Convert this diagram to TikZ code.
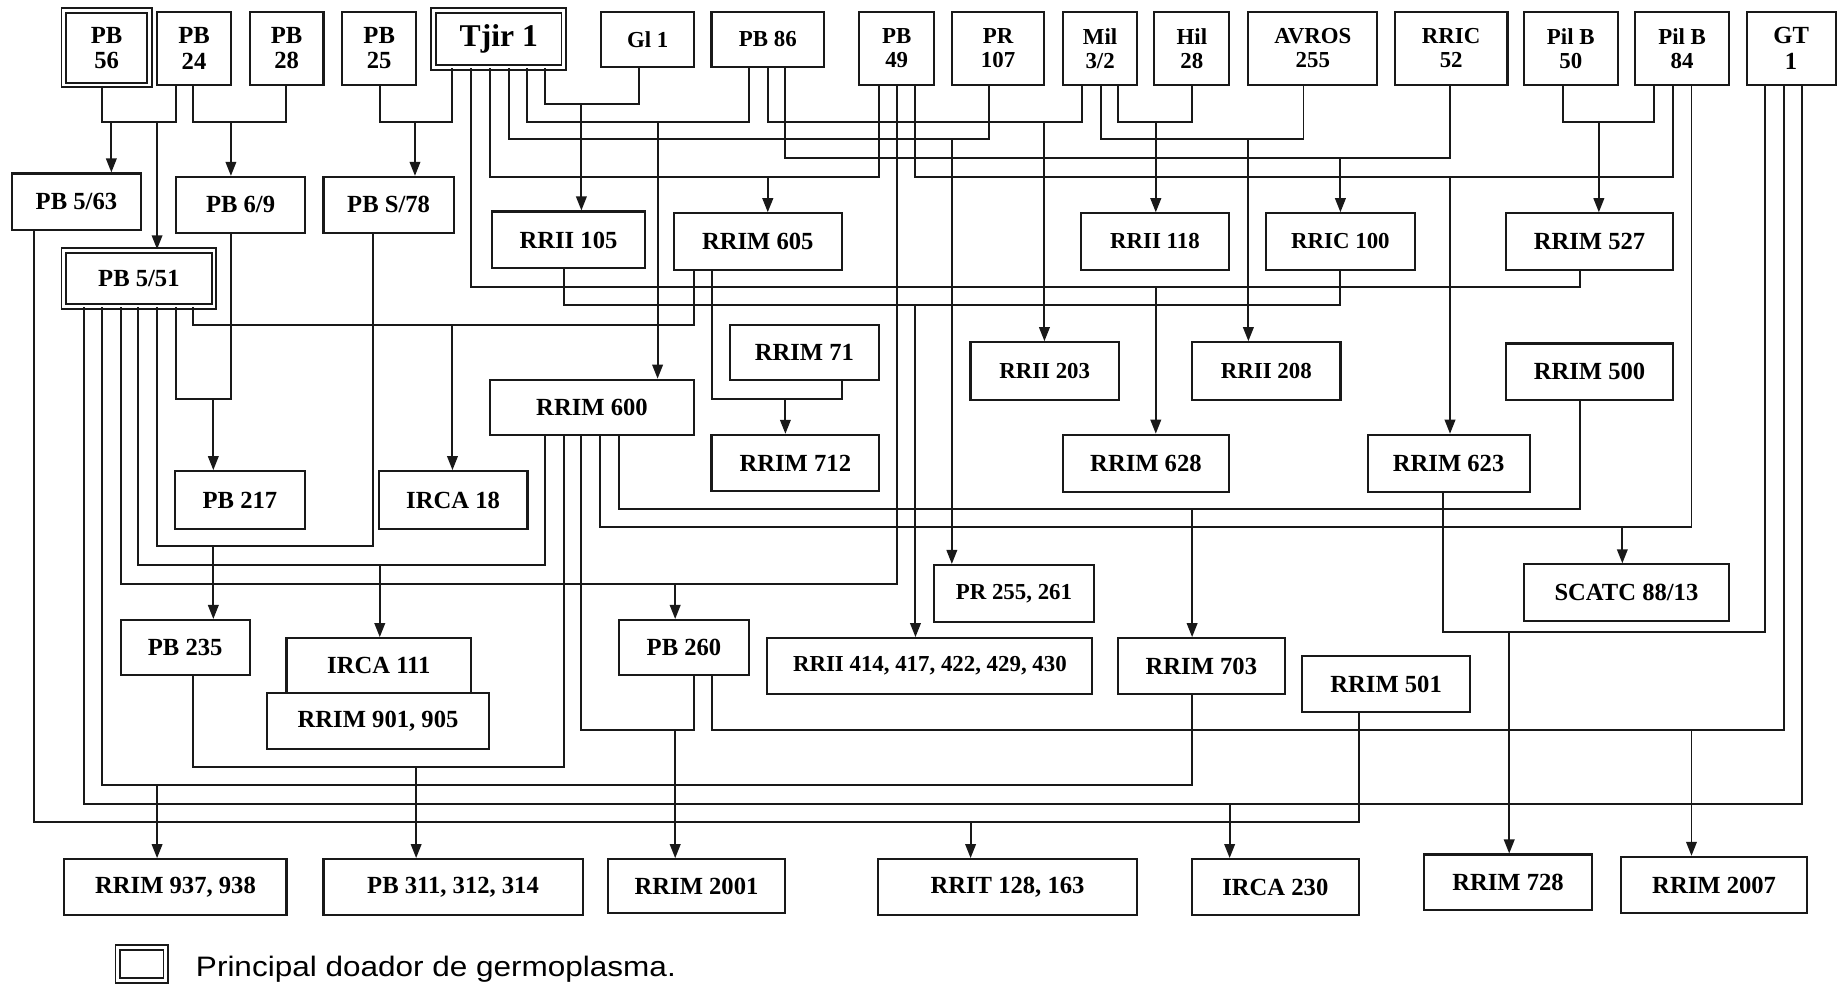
\documentclass[tikz,border=0pt]{standalone}
\usepackage{fontspec}
\setmainfont{Liberation Serif}
\newfontfamily\legendfont{Liberation Sans}[FakeStretch=1.12]
\usepackage{xcolor}
\usepackage{tikz}
\usetikzlibrary{arrows.meta}
\definecolor{CloneInk}{RGB}{25, 25, 25}

\tikzset{
  box/.style={draw=CloneInk, line width=1.8pt, inner sep=0pt, align=center,
    font=\fontsize{21}{21.5}\selectfont\bfseries},
  small/.style={font=\fontsize{19.5}{20.5}\selectfont\bfseries},
  donor/.style={box, double, double distance=2.4pt, line width=1.6pt},
  link/.style={draw=CloneInk, line width=1.7pt},
  feed/.style={link, -{Triangle[length=12pt,width=9pt]}},
}

\begin{document}
\begin{tikzpicture}[x=1pt, y=-1pt]
  \useasboundingbox (0,0) rectangle (1568,840);

  % parent clones, top row
  \node[donor, minimum width=73pt, minimum height=63.5pt] (pb56) at (91,40.75) {PB\\56};
  \node[box, minimum width=63pt, minimum height=62.5pt] (pb24) at (165.5,41.25) {PB\\24};
  \node[box, minimum width=63pt, minimum height=62.5pt] (pb28) at (244.5,41.25) {PB\\28};
  \node[box, minimum width=63pt, minimum height=62.5pt] (pb25) at (323.5,41.25) {PB\\25};
  \node[donor, minimum width=111pt, minimum height=48.5pt,
    font=\fontsize{27}{27}\selectfont\bfseries] (tjir) at (425.5,33.25) {Tjir 1};
  \node[box, small, minimum width=79pt, minimum height=47pt] (gl1) at (552.5,33.5) {Gl 1};
  \node[box, small, minimum width=96pt, minimum height=47pt] (pb86) at (655,33.5) {PB 86};
  \node[box, small, minimum width=64pt, minimum height=62.5pt] (pb49) at (765,41.25) {PB\\49};
  \node[box, small, minimum width=79pt, minimum height=62.5pt] (pr107) at (851.5,41.25) {PR\\107};
  \node[box, small, minimum width=63pt, minimum height=62.5pt] (mil) at (938.5,41.25) {Mil\\3/2};
  \node[box, small, minimum width=64pt, minimum height=62.5pt] (hil) at (1016.8,41.25) {Hil\\28};
  \node[box, small, minimum width=110pt, minimum height=62.5pt] (avros) at (1120,41.25) {AVROS\\255};
  \node[box, small, minimum width=96pt, minimum height=62.5pt] (rric52) at (1238,41.25) {RRIC\\52};
  \node[box, small, minimum width=80pt, minimum height=62.5pt] (pilb50) at (1340,41.25) {Pil B\\50};
  \node[box, small, minimum width=80pt, minimum height=62.5pt] (pilb84) at (1435,41.25) {Pil B\\84};
  \node[box, minimum width=76pt, minimum height=62.5pt] (gt1) at (1528,41.25) {GT\\1};

  % second generation
  \node[box, minimum width=110.4pt, minimum height=48pt] (pb563) at (65.2,172) {PB 5/63};
  \node[box, minimum width=110.4pt, minimum height=47.5pt] (pb69) at (205.2,174.7) {PB 6/9};
  \node[box, minimum width=111pt, minimum height=47.5pt] (pbs78) at (331.5,174.7) {PB S/78};
  \node[donor, minimum width=128pt, minimum height=48pt] (pb551) at (118.5,237.5) {PB 5/51};
  \node[box, minimum width=130pt, minimum height=48.5pt] (rrii105) at (485,204.7) {RRII 105};
  \node[box, minimum width=143pt, minimum height=48pt] (rrim605) at (646.5,206) {RRIM 605};
  \node[box, small, minimum width=126.7pt, minimum height=48pt] (rrii118) at (985.3,206) {RRII 118};
  \node[box, small, minimum width=127pt, minimum height=48pt] (rric100) at (1143.5,206) {RRIC 100};
  \node[box, minimum width=142pt, minimum height=48pt] (rrim527) at (1356,206) {RRIM 527};

  % third generation
  \node[box, minimum width=127.2pt, minimum height=47pt] (rrim71) at (686.2,300.5) {RRIM 71};
  \node[box, small, minimum width=126.5pt, minimum height=49pt] (rrii203) at (891.2,316.5) {RRII 203};
  \node[box, small, minimum width=126.5pt, minimum height=49pt] (rrii208) at (1080.3,316.5) {RRII 208};
  \node[box, minimum width=142pt, minimum height=48pt] (rrim500) at (1356,317) {RRIM 500};
  \node[box, minimum width=174pt, minimum height=47.5pt] (rrim600) at (505,347.7) {RRIM 600};
  \node[box, minimum width=143pt, minimum height=48pt] (rrim712) at (678.5,395) {RRIM 712};
  \node[box, minimum width=142pt, minimum height=48.5pt] (rrim628) at (977.6,395.2) {RRIM 628};
  \node[box, minimum width=138.3pt, minimum height=48.5pt] (rrim623) at (1235.8,395.2) {RRIM 623};
  \node[box, minimum width=110.6pt, minimum height=49pt] (pb217) at (204.7,426.5) {PB 217};
  \node[box, minimum width=127pt, minimum height=49pt] (irca18) at (386.5,426.5) {IRCA 18};
  \node[box, small, minimum width=136pt, minimum height=49pt] (pr255) at (865,506.5) {PR 255, 261};
  \node[box, minimum width=175pt, minimum height=48pt] (scatc) at (1387.5,505.5) {SCATC 88/13};
  \node[box, minimum width=110pt, minimum height=47pt] (pb235) at (158,552.5) {PB 235};
  \node[box, minimum width=157.5pt, minimum height=46.5pt] (irca111) at (323.2,567.7) {IRCA 111};
  \node[box, minimum width=190pt, minimum height=48pt] (rrim901) at (322.5,615) {RRIM 901, 905};
  \node[box, minimum width=111pt, minimum height=47pt] (pb260) at (583.5,552.5) {PB 260};
  \node[box, small, minimum width=277.3pt, minimum height=47.5pt] (rrii414) at (793.3,568.2) {RRII 414, 417, 422, 429, 430};
  \node[box, minimum width=142.2pt, minimum height=47.5pt] (rrim703) at (1024.9,568.2) {RRIM 703};
  \node[box, minimum width=143pt, minimum height=47.6pt] (rrim501) at (1182.5,583.8) {RRIM 501};

  % bottom row
  \node[box, minimum width=189.5pt, minimum height=47.5pt] (rrim937) at (149.7,756.7) {RRIM 937, 938};
  \node[box, minimum width=221pt, minimum height=47.5pt] (pb311) at (386.5,756.7) {PB 311, 312, 314};
  \node[box, minimum width=150.5pt, minimum height=46pt] (rrim2001) at (594.2,756) {RRIM 2001};
  \node[box, minimum width=221pt, minimum height=47.5pt] (rrit) at (859.5,756.7) {RRIT 128, 163};
  \node[box, minimum width=142pt, minimum height=47.5pt] (irca230) at (1088,756.7) {IRCA 230};
  \node[box, minimum width=143pt, minimum height=47pt] (rrim728) at (1286.5,752.5) {RRIM 728};
  \node[box, minimum width=158.6pt, minimum height=48pt] (rrim2007) at (1462.3,755) {RRIM 2007};

  % crosses between top-row clones
  \draw[link] (87,0 |- pb56.south) |- (150,104) -- (150,0 |- pb24.south);
  \coordinate (k563) at (95,104);
  \coordinate (k551) at (134,104);
  \draw[feed] (k563) -- (k563 |- pb563.north);
  \draw[feed] (k551) -- (k551 |- pb551.north);

  \draw[link] (165,0 |- pb24.south) |- (244,104) -- (244,0 |- pb28.south);
  \coordinate (k69) at (197,104);
  \draw[feed] (k69) -- (k69 |- pb69.north);

  \draw[link] (324,0 |- pb25.south) |- (386,104) -- (386,0 |- tjir.south);
  \coordinate (k78) at (354,104);
  \draw[feed] (k78) -- (k78 |- pbs78.north);

  \draw[link] (465,0 |- tjir.south) |- (545,89) -- (545,0 |- gl1.south);
  \coordinate (k105) at (496,89);
  \draw[feed] (k105) -- (k105 |- rrii105.north);

  \draw[link] (450,0 |- tjir.south) |- (639,104) -- (639,0 |- pb86.south);
  \coordinate (k600) at (561,104);
  \draw[feed] (k600) -- (k600 |- rrim600.north);

  \draw[link] (434,0 |- tjir.south) |- (844,119) -- (844,0 |- pr107.south);
  \coordinate (k255) at (812,119);
  \draw[feed] (k255) -- (k255 |- pr255.north);

  \draw[link] (418,0 |- tjir.south) |- (750,151) -- (750,0 |- pb49.south);
  \coordinate (k605) at (655,151);
  \draw[feed] (k605) -- (k605 |- rrim605.north);

  \draw[link] (402,0 |- tjir.south) |- (1348,245) -- (1348,0 |- rrim527.south);
  \coordinate (k628) at (986,245);
  \draw[feed] (k628) -- (k628 |- rrim628.north);

  \draw[link] (655,0 |- pb86.south) |- (923,104) -- (923,0 |- mil.south);
  \coordinate (k203) at (891,104);
  \draw[feed] (k203) -- (k203 |- rrii203.north);

  \draw[link] (670,0 |- pb86.south) |- (1237,135) -- (1237,0 |- rric52.south);
  \coordinate (k100) at (1143.5,135);
  \draw[feed] (k100) -- (k100 |- rric100.north);

  \draw[link] (781,0 |- pb49.south) |- (1427,151) -- (1427,0 |- pilb84.south);
  \coordinate (k623) at (1237,151);
  \draw[feed] (k623) -- (k623 |- rrim623.north);

  \draw[link] (939,0 |- mil.south) |- (1112,119) -- (1112,0 |- avros.south);
  \coordinate (k208) at (1065,119);
  \draw[feed] (k208) -- (k208 |- rrii208.north);

  \draw[link] (954,0 |- mil.south) |- (1017,104) -- (1017,0 |- hil.south);
  \coordinate (k118) at (986,104);
  \draw[feed] (k118) -- (k118 |- rrii118.north);

  \draw[link] (1333,0 |- pilb50.south) |- (1411,104) -- (1411,0 |- pilb84.south);
  \coordinate (k527) at (1364,104);
  \draw[feed] (k527) -- (k527 |- rrim527.north);

  % crosses of the middle rows
  \draw[link] (481,0 |- rrii105.south) |- (1143.5,260) -- (1143.5,0 |- rric100.south);
  \coordinate (k414) at (781,260);
  \draw[feed] (k414) -- (k414 |- rrii414.north);

  \draw[link] (165,0 |- pb551.south) |- (592,277) -- (592,0 |- rrim605.south);
  \coordinate (k18) at (386,277);
  \draw[feed] (k18) -- (k18 |- irca18.north);

  \draw[link] (607,0 |- rrim605.south) |- (718,340) -- (718,0 |- rrim71.south);
  \coordinate (k712) at (670,340);
  \draw[feed] (k712) -- (k712 |- rrim712.north);

  \draw[link] (150,0 |- pb551.south) |- (197,340) -- (197,0 |- pb69.south);
  \coordinate (k217) at (182,340);
  \draw[feed] (k217) -- (k217 |- pb217.north);

  \draw[link] (528,0 |- rrim600.south) |- (1348,434.6) -- (1348,0 |- rrim500.south);
  \coordinate (k703) at (1017,434.6);
  \draw[feed] (k703) -- (k703 |- rrim703.north);

  \draw[link] (512,0 |- rrim600.south) |- (1443,450) -- (1443,0 |- pilb84.south);
  \coordinate (k88) at (1384,450);
  \draw[feed] (k88) -- (k88 |- scatc.north);

  \draw[link] (134,0 |- pb551.south) |- (318,466) -- (318,0 |- pbs78.south);
  \coordinate (k235) at (182,466);
  \draw[feed] (k235) -- (k235 |- pb235.north);

  \draw[link] (118,0 |- pb551.south) |- (465,482) -- (465,0 |- rrim600.south);
  \coordinate (k111) at (324,482);
  \draw[feed] (k111) -- (k111 |- irca111.north);

  \draw[link] (103,0 |- pb551.south) |- (765,498) -- (765,0 |- pb49.south);
  \coordinate (k260) at (576,498);
  \draw[feed] (k260) -- (k260 |- pb260.north);

  \draw[link] (1231,0 |- rrim623.south) |- (1506,539) -- (1506,0 |- gt1.south);
  \coordinate (k728) at (1287.5,539);
  \draw[feed] (k728) -- (k728 |- rrim728.north);

  % crosses into the bottom row
  \draw[link] (496,0 |- rrim600.south) |- (592,622.7) -- (592,0 |- pb260.south);
  \coordinate (k2001) at (576,622.7);
  \draw[feed] (k2001) -- (k2001 |- rrim2001.north);

  \draw[link] (607,0 |- pb260.south) |- (1522,622.7) -- (1522,0 |- gt1.south);
  \coordinate (k2007) at (1443,622.7);
  \draw[feed] (k2007) -- (k2007 |- rrim2007.north);

  \draw[link] (165,0 |- pb235.south) |- (481,654) -- (481,0 |- rrim600.south);
  \coordinate (k311) at (355,654);
  \draw[feed] (k311) -- (k311 |- pb311.north);

  \draw[link] (87,0 |- pb551.south) |- (1017,670) -- (1017,0 |- rrim703.south);
  \coordinate (k937) at (134,670);
  \draw[feed] (k937) -- (k937 |- rrim937.north);

  \draw[link] (71.5,0 |- pb551.south) |- (1537,686) -- (1537,0 |- gt1.south);
  \coordinate (k230) at (1049,686);
  \draw[feed] (k230) -- (k230 |- irca230.north);

  \draw[link] (29,0 |- pb563.south) |- (1159,701) -- (1159,0 |- rrim501.south);
  \coordinate (k128) at (828,701);
  \draw[feed] (k128) -- (k128 |- rrit.north);

  % legend
  \node[donor, minimum width=41pt, minimum height=28pt] (key) at (121,822.5) {};
  \node[anchor=base west, inner sep=0pt, font=\legendfont\fontsize{24}{24}\selectfont]
    (keytext) at (167,833) {Principal doador de germoplasma.};
\end{tikzpicture}
\end{document}
